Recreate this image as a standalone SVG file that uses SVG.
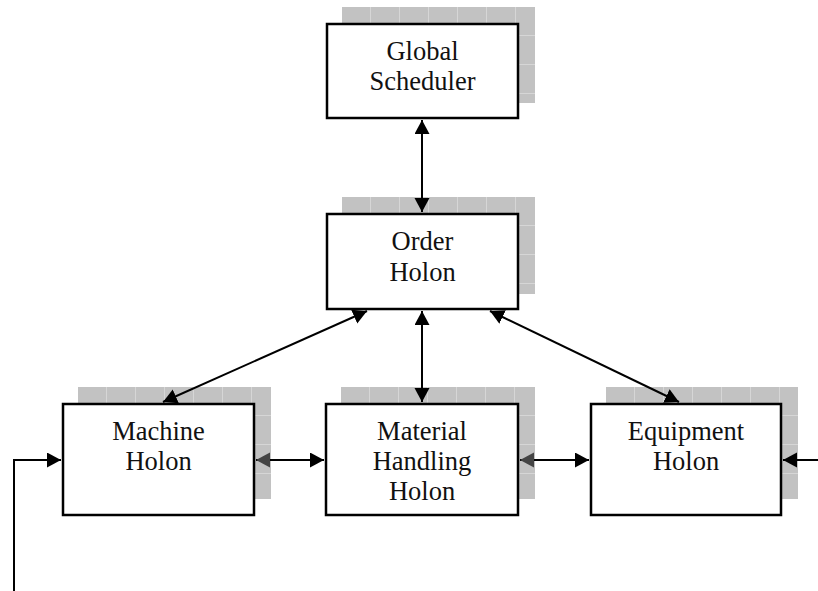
<svg xmlns="http://www.w3.org/2000/svg" width="818" height="591" viewBox="0 0 818 591">
<style>
.box{fill:#fff;stroke:#000;stroke-width:2.5}
.shadow{fill:url(#grid)}
.lbl{font-family:"Liberation Serif","Times New Roman",serif;font-size:26.5px;fill:#111;text-anchor:middle}
.conn{fill:none;stroke:#000;stroke-width:2}
</style>
<defs>
<pattern id="grid" patternUnits="userSpaceOnUse" x="16" y="-16" width="29" height="29">
<rect width="29" height="29" fill="#c2c2c2"/>
<path d="M28.5,0V29M0,28.5H29" stroke="#d6d6d6" stroke-width="1"/>
</pattern>
<marker id="ah" markerUnits="userSpaceOnUse" markerWidth="15" markerHeight="16" refX="14" refY="7.5" orient="auto-start-reverse" viewBox="0 0 15 16">
<path d="M0,0L14,7.5L0,15z" fill="#000"/>
</marker>
<marker id="ahg" markerUnits="userSpaceOnUse" markerWidth="15" markerHeight="16" refX="14" refY="7.5" orient="auto-start-reverse" viewBox="0 0 15 16">
<path d="M0,0L14,7.5L0,15z" fill="#444"/>
</marker>
</defs>
<g id="global-scheduler" transform="translate(326,23)">
<rect class="shadow" x="16" y="-16" width="193" height="96"/>
<rect class="box" x="1" y="1" width="191" height="94"/>
<text class="lbl" x="96.5" y="37">Global</text>
<text class="lbl" x="96.5" y="67">Scheduler</text>
</g>
<g id="order-holon" transform="translate(326,213)">
<rect class="shadow" x="16" y="-16" width="193" height="97"/>
<rect class="box" x="1" y="1" width="191" height="95"/>
<text class="lbl" x="96.5" y="37">Order</text>
<text class="lbl" x="96.5" y="68">Holon</text>
</g>
<g id="machine-holon" transform="translate(62,403)">
<rect class="shadow" x="16" y="-16" width="193" height="112"/>
<rect class="box" x="1" y="1" width="191" height="111"/>
<text class="lbl" x="96.5" y="37">Machine</text>
<text class="lbl" x="96.5" y="67">Holon</text>
</g>
<g id="material-handling-holon" transform="translate(325,403)">
<rect class="shadow" x="16" y="-16" width="194" height="112"/>
<rect class="box" x="1" y="1" width="192" height="111"/>
<text class="lbl" x="97" y="37">Material</text>
<text class="lbl" x="97" y="67">Handling</text>
<text class="lbl" x="97" y="97">Holon</text>
</g>
<g id="equipment-holon" transform="translate(590,403)">
<rect class="shadow" x="16" y="-16" width="192" height="112"/>
<rect class="box" x="1" y="1" width="190" height="111"/>
<text class="lbl" x="96" y="37">Equipment</text>
<text class="lbl" x="96" y="67">Holon</text>
</g>
<g id="connectors">
<line class="conn" x1="422" y1="120" x2="422" y2="212" marker-start="url(#ah)" marker-end="url(#ah)"/>
<line class="conn" x1="367" y1="311" x2="163" y2="402" marker-start="url(#ah)" marker-end="url(#ah)"/>
<line class="conn" x1="422" y1="311" x2="422" y2="402" marker-start="url(#ah)" marker-end="url(#ah)"/>
<line class="conn" x1="490" y1="311" x2="679" y2="402" marker-start="url(#ah)" marker-end="url(#ah)"/>
<line class="conn" x1="256" y1="460" x2="324" y2="460" marker-start="url(#ahg)" marker-end="url(#ah)"/>
<line class="conn" x1="520" y1="460" x2="589" y2="460" marker-start="url(#ahg)" marker-end="url(#ah)"/>
<line class="conn" x1="818" y1="460" x2="783" y2="460" marker-end="url(#ah)"/>
<polyline class="conn" points="14,591 14,460 61,460" marker-end="url(#ah)"/>
</g>
</svg>
